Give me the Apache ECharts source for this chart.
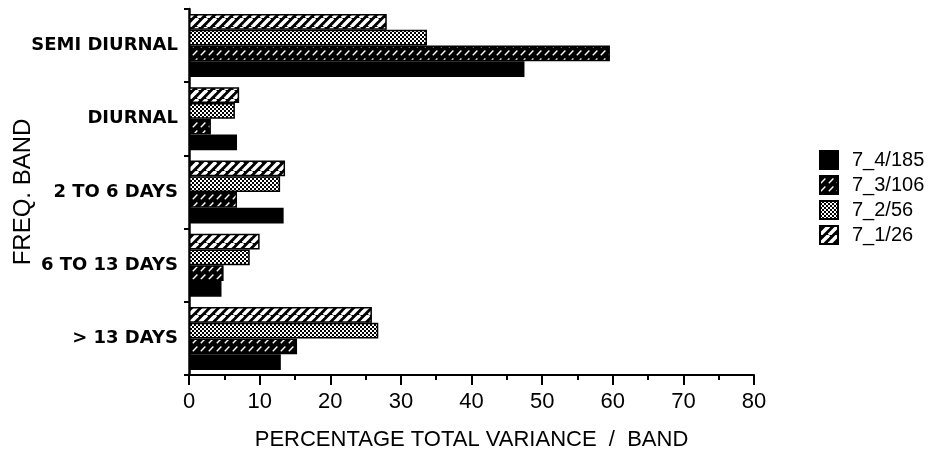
<!DOCTYPE html>
<html>
<head>
<meta charset="utf-8">
<script src="https://cdn.jsdelivr.net/npm/echarts@6/dist/echarts.min.js"></script>
<style>
  html, body { margin: 0; padding: 0; background: #fff; }
  #chart { width: 945px; height: 460px; }
</style>
</head>
<body>
<div id="chart"></div>
<script>
// Frequency bands, listed bottom to top on the category axis
const bands = ['> 13 DAYS', '6 TO 13 DAYS', '2 TO 6 DAYS', 'DIURNAL', 'SEMI DIURNAL'];

// Percentage of total variance per band, one array per record
const rec_7_4_185 = [13.0, 4.6, 13.4, 6.8, 47.5];
const rec_7_3_106 = [15.3, 4.9, 6.8, 3.1, 59.6];
const rec_7_2_56  = [26.8, 8.6, 12.9, 6.5, 33.7];
const rec_7_1_26  = [25.9, 10.0, 13.6, 7.1, 28.0];

const seriesNames = ['7_4/185', '7_3/106', '7_2/56', '7_1/26'];

// Fill textures drawn on small canvases and repeated
function tile(w, h, draw) {
  const c = document.createElement('canvas');
  c.width = w; c.height = h;
  const g = c.getContext('2d');
  draw(g, w, h);
  return { image: c, repeat: 'repeat' };
}

// wide black/white diagonal stripes
const wideStripes = tile(9, 9, (g, w, h) => {
  g.fillStyle = '#000'; g.fillRect(0, 0, w, h);
  g.strokeStyle = '#fff'; g.lineWidth = 3.6;
  for (let k = -1; k <= 1; k++) {
    g.beginPath(); g.moveTo(k * w, h); g.lineTo(k * w + w, 0); g.stroke();
  }
});

// black with thin broken white diagonals
const thinDashes = tile(8, 8, (g, w, h) => {
  g.fillStyle = '#000'; g.fillRect(0, 0, w, h);
  g.strokeStyle = '#fff'; g.lineWidth = 1.4;
  g.beginPath(); g.moveTo(0.8, 7.2); g.lineTo(5.4, 2.6); g.stroke();
});

// fine checker mesh
const mesh = tile(4, 4, (g, w, h) => {
  g.fillStyle = '#000'; g.fillRect(0, 0, w, h);
  g.fillStyle = '#fff';
  g.fillRect(0, 0, 2, 2);
  g.fillRect(2, 2, 2, 2);
});

function barSeries(name, data, fill) {
  return {
    name: name,
    type: 'bar',
    data: data,
    barGap: '0%',
    barCategoryGap: '14%',
    itemStyle: { color: fill, borderColor: '#000', borderWidth: 1.5 },
    emphasis: { disabled: true },
    animation: false
  };
}

const chart = echarts.init(document.getElementById('chart'), null, { renderer: 'canvas' });

chart.setOption({
  animation: false,
  backgroundColor: '#fff',
  grid: { left: 189, right: 191, top: 9, bottom: 85, containLabel: false, outerBoundsMode: 'none' },
  legend: {
    orient: 'vertical',
    left: 814,
    top: 145,
    itemWidth: 18,
    itemHeight: 18,
    itemGap: 5,
    icon: 'rect',
    data: seriesNames,
    textStyle: { fontFamily: 'Liberation Sans', fontSize: 20, lineHeight: 18, color: '#000', padding: [0, 0, 0, 9] },
    selectedMode: false
  },
  xAxis: {
    type: 'value',
    min: 0,
    max: 80,
    interval: 10,
    name: 'PERCENTAGE TOTAL VARIANCE  /  BAND',
    nameLocation: 'middle',
    nameGap: 54,
    nameMoveOverlap: false,
    nameTextStyle: { fontFamily: 'Liberation Sans', fontSize: 22, color: '#000' },
    axisLine: { show: true, lineStyle: { color: '#000', width: 2 } },
    axisTick: { show: true, length: 10, lineStyle: { color: '#000', width: 2 } },
    minorTick: { show: true, splitNumber: 2, length: 5, lineStyle: { color: '#000', width: 2 } },
    axisLabel: { fontFamily: 'Liberation Sans', fontSize: 22, color: '#000', margin: 16 },
    splitLine: { show: false }
  },
  yAxis: {
    type: 'category',
    data: bands,
    name: 'FREQ. BAND',
    nameLocation: 'middle',
    nameGap: 154,
    nameMoveOverlap: false,
    nameTextStyle: { fontFamily: 'Liberation Sans', fontSize: 24, color: '#000' },
    axisLine: { show: true, lineStyle: { color: '#000', width: 2.5 } },
    axisTick: { show: true, length: 5, lineStyle: { color: '#000', width: 2 } },
    axisLabel: { fontFamily: 'DejaVu Sans', fontWeight: 'bold', fontSize: 18, color: '#000', margin: 11 }
  },
  series: [
    barSeries('7_1/26', rec_7_1_26, wideStripes),
    barSeries('7_2/56', rec_7_2_56, mesh),
    barSeries('7_3/106', rec_7_3_106, thinDashes),
    barSeries('7_4/185', rec_7_4_185, '#000')
  ]
});
</script>
</body>
</html>
